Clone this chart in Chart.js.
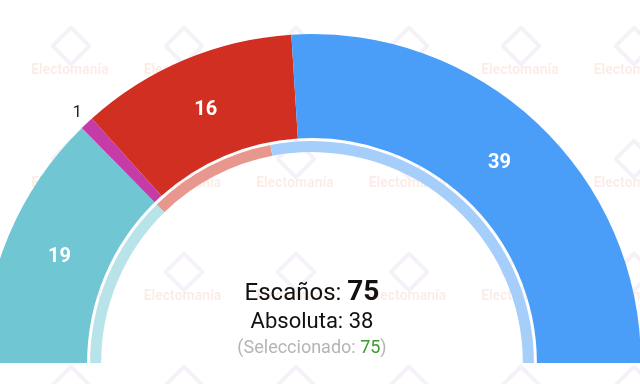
<!DOCTYPE html>
<html>
<head>
<meta charset="utf-8">
<script src="https://cdn.jsdelivr.net/npm/chart.js@4"></script>
<style>
  html, body { margin: 0; padding: 0; background: #fff; overflow: hidden; }
  body { width: 640px; height: 384px; position: relative; font-family: Roboto, sans-serif; }
  #marks { position: absolute; left: 0; top: 0; width: 640px; height: 384px; pointer-events: none; z-index: 0; }
  #wrap { position: absolute; left: -17px; top: 0; width: 658px; height: 384px; z-index: 1; }
  .wm-text { position: absolute; width: 110px; margin-left: -55px; text-align: center;
    font: bold 14px Roboto, sans-serif; color: rgba(235, 95, 55, 0.13); line-height: 16px; }
  .wm-logo { position: absolute; width: 22px; height: 22px; margin: -14px 0 0 -14px;
    border: 4px solid rgba(130, 60, 160, 0.07); border-radius: 3px; transform: rotate(45deg); }
</style>
</head>
<body>
<div id="marks"></div>
<div id="wrap"><canvas id="chart"></canvas></div>
<script>
// seats per party, outer ring (left to right)
const parties = ['p1', 'p2', 'p3', 'p4'];
const seats = [19, 1, 16, 39];
// inner thin ring ("seleccionado")
const selectedSeats = [19, 0, 14, 42];
const colors = ['#70c7d3', '#c53ba8', '#d02f21', '#4a9ef8'];
const lightColors = ['#b8e3e9', '#e29dd4', '#e8978f', '#a5cefb'];

const totalSeats = 75;
const majority = 38;
const selectedTotal = 75;

// faint watermark grid (behind the chart)
(function() {
    const marks = document.getElementById('marks');
    for (let row = 0; row < 4; row++) {
        for (let col = -1; col < 6; col++) {
            const cx = 70 + col * 112.5;
            const cy = 69 + row * 113;
            const logo = document.createElement('div');
            logo.className = 'wm-logo';
            logo.style.left = cx + 'px';
            logo.style.top = (cy - 24) + 'px';
            marks.appendChild(logo);
            const txt = document.createElement('div');
            txt.className = 'wm-text';
            txt.textContent = 'Electomanía';
            txt.style.left = cx + 'px';
            txt.style.top = (cy - 8) + 'px';
            marks.appendChild(txt);
        }
    }
})();

const arcLabels = {
    id: 'arcLabels',
    afterDatasetsDraw(chart) {
        const ctx = chart.ctx;
        const meta = chart.getDatasetMeta(0);
        ctx.save();
        ctx.textAlign = 'center';
        ctx.textBaseline = 'middle';
        meta.data.forEach((arc, i) => {
            const v = seats[i];
            const p = arc.getProps(['x', 'y', 'startAngle', 'endAngle', 'innerRadius', 'outerRadius'], true);
            const mid = (p.startAngle + p.endAngle) / 2;
            let r, color, font;
            if (v >= 3) {
                r = (p.innerRadius + p.outerRadius) / 2 - 3;
                color = '#ffffff';
                font = 'bold 20px Roboto';
            } else {
                r = p.outerRadius + 14;
                color = '#222222';
                font = '16px Roboto';
            }
            ctx.fillStyle = color;
            ctx.font = font;
            ctx.fillText(String(v), p.x + Math.cos(mid) * r, p.y + Math.sin(mid) * r);
        });

        // centre text
        const cx = meta.data[0].x;
        const cy = meta.data[0].y;
        ctx.textAlign = 'left';
        ctx.textBaseline = 'alphabetic';

        const a = 'Escaños: ', b = String(totalSeats);
        ctx.font = '24px Roboto';
        const wa = ctx.measureText(a).width;
        ctx.font = 'bold 28px Roboto';
        const wb = ctx.measureText(b).width;
        let x = cx - (wa + wb) / 2;
        ctx.fillStyle = '#111';
        ctx.font = '24px Roboto';
        ctx.fillText(a, x, cy - 63);
        ctx.font = 'bold 28px Roboto';
        ctx.fillText(b, x + wa, cy - 63);

        ctx.font = '22px Roboto';
        ctx.textAlign = 'center';
        ctx.fillText('Absoluta: ' + majority, cx, cy - 35);

        ctx.textAlign = 'left';
        ctx.font = '18px Roboto';
        const c1 = '(Seleccionado: ', c2 = String(selectedTotal), c3 = ')';
        const w1 = ctx.measureText(c1).width, w2 = ctx.measureText(c2).width, w3 = ctx.measureText(c3).width;
        x = cx - (w1 + w2 + w3) / 2;
        ctx.fillStyle = '#b4b4b4';
        ctx.fillText(c1, x, cy - 10);
        ctx.fillStyle = '#3c9a2e';
        ctx.fillText(c2, x + w1, cy - 10);
        ctx.fillStyle = '#b4b4b4';
        ctx.fillText(c3, x + w1 + w2, cy - 10);
        ctx.restore();
    }
};

new Chart(document.getElementById('chart'), {
    type: 'doughnut',
    data: {
        labels: parties,
        datasets: [
            { data: seats, backgroundColor: colors, borderWidth: 0, weight: 104 },
            { data: [1], backgroundColor: ['rgba(255,255,255,0)'], borderWidth: 0, weight: 3 },
            { data: selectedSeats, backgroundColor: lightColors, borderWidth: 0, weight: 11 }
        ]
    },
    options: {
        responsive: true,
        maintainAspectRatio: false,
        animation: false,
        rotation: -90,
        circumference: 180,
        cutout: '64.1%',
        layout: { padding: { top: 34, bottom: 21, left: 0, right: 0 } },
        plugins: { legend: { display: false }, tooltip: { enabled: false } }
    },
    plugins: [arcLabels]
});
</script>
</body>
</html>
